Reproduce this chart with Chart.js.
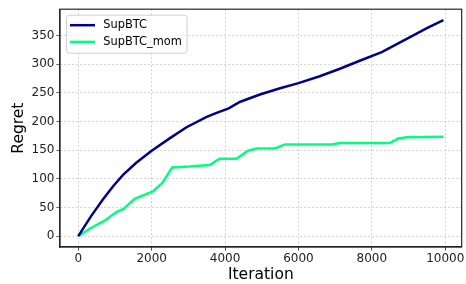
<script src="https://cdn.jsdelivr.net/npm/chart.js@4/dist/chart.umd.min.js"></script>
<style>
  body { margin: 0; background: #fff; }
</style>
<canvas id="chart" width="466" height="284"></canvas>
<script>

    // values
    var supIter = [0, 350, 670, 950, 1220, 1580, 2000, 2500, 2950, 3500, 3770, 4100, 4400, 4950, 5500, 6000, 6580, 7130, 7670, 8270, 8950, 9500, 9950];
    var supRegret = [0, 35, 64, 87, 107, 128, 149, 171, 190, 208, 215, 223, 234, 247, 258, 267, 279, 292, 306, 321, 344, 363, 377];

    var momIter = [0, 310, 720, 1035, 1245, 1535, 2035, 2290, 2560, 3035, 3580, 3850, 4310, 4625, 4855, 5355, 5630, 6900, 7130, 8490, 8720, 8950, 9950];
    var momRegret = [0, 13, 27, 42, 48, 65, 78, 93, 120, 121.5, 124, 135, 135, 149, 153, 153, 160, 160, 162.5, 162.5, 170.5, 172.5, 173.5];

    var seriesNames = ["SupBTC", "SupBTC_mom"];
    var xTickValues = [0, 2000, 4000, 6000, 8000, 10000];
    var yTickValues = [0, 50, 100, 150, 200, 250, 300, 350];

    var FONT = "DejaVu Sans";

    function toPoints(a, b) {
        var out = [];
        for (var i = 0; i < Math.min(a.length, b.length); i++) {
            out.push({x: a[i], y: b[i]});
        }
        return out;
    }

    // matplotlib style box around the axes + legend in upper left
    var boxAndLegend = {
        id: "boxAndLegend",
        afterDraw: function(chart) {
            var ctx = chart.ctx, a = chart.chartArea;
            ctx.save();
            ctx.strokeStyle = "#262626";
            ctx.lineWidth = 1.2;
            ctx.strokeRect(a.left, a.top, a.right - a.left, a.bottom - a.top);

            // legend frame
            var lx = a.left + 6.5, ly = a.top + 6, lw = 120.5, lh = 38, r = 3;
            ctx.beginPath();
            ctx.moveTo(lx + r, ly);
            ctx.arcTo(lx + lw, ly, lx + lw, ly + lh, r);
            ctx.arcTo(lx + lw, ly + lh, lx, ly + lh, r);
            ctx.arcTo(lx, ly + lh, lx, ly, r);
            ctx.arcTo(lx, ly, lx + lw, ly, r);
            ctx.closePath();
            ctx.fillStyle = "rgba(255,255,255,0.8)";
            ctx.fill();
            ctx.strokeStyle = "#d0d0d0";
            ctx.lineWidth = 1;
            ctx.stroke();

            ctx.font = "11.4px '" + FONT + "'";
            ctx.textBaseline = "middle";
            ctx.textAlign = "left";
            chart.data.datasets.forEach(function(ds, i) {
                var y = ly + 10 + i * 16.7;
                ctx.strokeStyle = ds.borderColor;
                ctx.lineWidth = 2.5;
                ctx.beginPath();
                ctx.moveTo(lx + 3.5, y);
                ctx.lineTo(lx + 28.5, y);
                ctx.stroke();
                ctx.fillStyle = "#000";
                ctx.fillText(ds.label, lx + 36.8, y);
            });
            ctx.restore();
        }
    };

    var ctx = document.getElementById("chart");
    var chart = new Chart(ctx, {
        type: "line",
        data: {
            datasets: [
                {label: seriesNames[0], data: toPoints(supIter, supRegret), borderColor: "#00008b", borderWidth: 2.5},
                {label: seriesNames[1], data: toPoints(momIter, momRegret), borderColor: "#00ff7f", borderWidth: 2.5}
            ]
        },
        options: {
            responsive: false,
            animation: false,
            devicePixelRatio: 1,
            layout: {padding: {top: 8, right: 4, left: 0, bottom: 0}},
            elements: {point: {radius: 0}, line: {tension: 0}},
            plugins: {legend: {display: false}, tooltip: {enabled: false}},
            scales: {
                x: {
                    type: "linear",
                    min: -497.5, max: 10447.5,
                    afterBuildTicks: function(s) { s.ticks = xTickValues.map(function(v) { return {value: v}; }); },
                    afterFit: function(s) { s.height = 37; },
                    grid: {color: "rgba(176,176,176,0.7)", lineWidth: 0.8, tickLength: 3.5, tickColor: "#262626", tickWidth: 1, tickBorderDash: [1, 0]},
                    border: {display: true, color: "#262626", width: 1.2, dash: [2, 2]},
                    ticks: {color: "#222", font: {family: FONT, size: 12}, padding: 1.5, maxRotation: 0, autoSkip: false,
                        callback: function(v) { return String(v); }},
                    title: {display: true, text: "Iteration", color: "#000", font: {family: FONT, size: 15.5}, padding: {top: 0, bottom: 0}}
                },
                y: {
                    min: -18.85, max: 395.85,
                    afterBuildTicks: function(s) { s.ticks = yTickValues.map(function(v) { return {value: v}; }); },
                    afterFit: function(s) { s.width = 60; },
                    grid: {color: "rgba(176,176,176,0.7)", lineWidth: 0.8, tickLength: 3.5, tickColor: "#262626", tickWidth: 1, tickBorderDash: [1, 0]},
                    border: {display: true, color: "#262626", width: 1.2, dash: [2, 2]},
                    ticks: {color: "#222", font: {family: FONT, size: 12}, padding: 2, autoSkip: false,
                        callback: function(v) { return String(v); }},
                    title: {display: true, text: "Regret", color: "#000", font: {family: FONT, size: 15.5}, padding: {top: 10, bottom: 0}}
                }
            }
        },
        plugins: [boxAndLegend]
    });

</script>
